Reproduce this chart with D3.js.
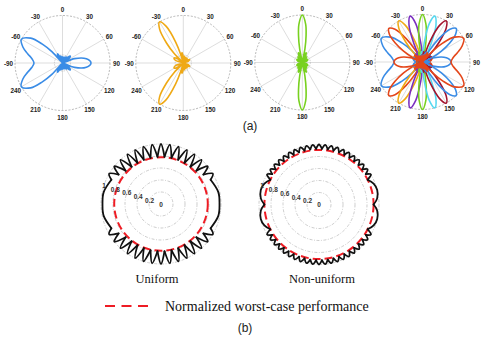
<!DOCTYPE html>
<html><head><meta charset="utf-8">
<script src="https://cdn.jsdelivr.net/npm/d3@7"></script>
<style>body{margin:0;background:#fff}svg{display:block}</style>
</head><body>
<svg id="c" width="484" height="337"></svg>
<script>
// ---------- DATA ----------
// (a) angular tick positions (deg, clockwise from top) and their labels
const tickAngles = [0, 30, 60, 90, 120, 150, 180, 210, 240, 270, 300, 330];
const tickLabels = ["0", "30", "60", "90", "120", "150", "180", "210", "240", "-90", "-60", "-30"];
const spokeAngles = [0, 30, 60, 90, 120, 150];

// Beam patterns (front half, angle deg from -90 to 90, normalized gain). Back half is symmetric about the array axis.
const beamM60 = [[-90,0.6],[-82,0.65],[-75,0.76],[-68,0.9],[-60,1],[-52,0.85],[-47,0.59],[-43,0.32],[-38,0],
  [-34,0.17],[-29,0.22],[-25,0.17],[-21.5,0],[-18,0.11],[-14,0.15],[-10,0.11],[-6.7,0],
  [-3,0.1],[0.5,0.13],[4,0.1],[7.7,0],[11,0.1],[15,0.13],[19,0.1],[22.6,0],
  [27,0.11],[30.6,0.15],[35,0.11],[39.3,0],[44,0.17],[49.4,0.22],[55,0.17],[62,0],
  [70,0.27],[80,0.51],[90,0.6]];
const beamM45 = [[-90,0.15],[-80,0.1],[-73.2,0],
  [-69,0.1],[-65,0.24],[-60,0.46],[-55,0.7],[-50,0.91],[-45,1],[-40,0.9],[-35,0.6],[-31,0.28],[-27.2,0],
  [-23,0.17],[-19.4,0.22],[-15.5,0.17],[-11.9,0],[-8.5,0.11],[-4.7,0.15],[-1,0.11],[2.5,0],
  [6,0.1],[9.7,0.13],[13.5,0.1],[17,0],[21,0.1],[24.7,0.13],[29,0.1],[32.9,0],
  [37,0.11],[41.9,0.15],[47,0.11],[52.5,0],[59,0.17],[66.6,0.22],[78,0.19],[90,0.15]];
const beamM30 = [[-90,0],[-72,0.17],[-61,0.22],[-54,0.17],[-48.6,0],
  [-44,0.27],[-40,0.55],[-35,0.87],[-30,1],[-25,0.85],[-20,0.47],[-17,0.2],[-14.5,0],
  [-11,0.17],[-7.2,0.22],[-3.5,0.17],[0,0],[3.5,0.11],[7.2,0.15],[11,0.11],[14.5,0],
  [18,0.1],[22,0.13],[26,0.1],[30,0],[34,0.1],[38.7,0.13],[43,0.1],[48.6,0],
  [54,0.11],[61,0.15],[72,0.11],[90,0]];
const beamM15 = [[-90,0.02],[-72,0.11],[-62,0.15],[-55,0.11],[-49.4,0],
  [-45,0.17],[-39.3,0.22],[-35,0.17],[-30.6,0],
  [-28,0.19],[-25,0.43],[-20,0.83],[-15,1],[-10,0.82],[-5,0.39],[-3,0.2],[-0.5,0],
  [3,0.17],[6.7,0.22],[10,0.17],[13.9,0],[17.5,0.11],[21.5,0.15],[25.5,0.11],[29.4,0],
  [33,0.1],[38,0.13],[43,0.1],[47.8,0],[54,0.1],[60,0.13],[70,0.1],[82.3,0],[90,0.02]];
const beam0 = [[-90,0],[-72,0.1],[-61,0.13],[-54,0.1],[-48.6,0],
  [-43,0.11],[-38.7,0.15],[-34,0.11],[-30,0],[-26,0.17],[-22,0.22],[-18,0.17],[-14.5,0],
  [-11,0.29],[-8,0.57],[-5,0.81],[0,1],[5,0.81],[8,0.57],[11,0.29],[14.5,0],
  [18,0.17],[22,0.22],[26,0.17],[30,0],[34,0.11],[38.7,0.15],[43,0.11],[48.6,0],
  [54,0.1],[61,0.13],[72,0.1],[90,0]];

// panels of (a)
const panelSteers = [[-60], [-30], [0], [-60, -45, -30, -15, 0, 15, 30, 45, 60]];
const panelColors = [["#3a8ce6"], ["#efa915"], ["#78d11f"],
  ["#3a8ce6", "#e4461a", "#efa915", "#7a2fc0", "#78d11f", "#56d8f0", "#a3142e", "#3a8ce6", "#e4461a"]];

// (b) radial ticks
const rTicks = [0, 0.2, 0.4, 0.6, 0.8, 1];
const rTickLabels = ["0", "0.2", "0.4", "0.6", "0.8", "1"];

// (b) envelopes, upper half (angle, radius, 1 = cusp between beams)
const uniformEnv = [[-90,0.975,0],[-78,0.975,0],[-64,0.92,1],[-59.5,1,0],[-55.25,0.86,1],[-51,1,0],[-46.75,0.81,1],
  [-42.5,1,0],[-38.25,0.79,1],[-34,1,0],[-29.75,0.79,1],[-25.5,1,0],[-21.25,0.79,1],[-17,1,0],[-12.75,0.79,1],
  [-8.5,1,0],[-4.25,0.79,1],[0,1,0],[4.25,0.79,1],[8.5,1,0],[12.75,0.79,1],[17,1,0],[21.25,0.79,1],[25.5,1,0],
  [29.75,0.79,1],[34,1,0],[38.25,0.79,1],[42.5,1,0],[46.75,0.81,1],[51,1,0],[55.25,0.86,1],[59.5,1,0],
  [64,0.92,1],[78,0.975,0],[90,0.975,0]];
const nonUniformEnv = [[-90,0.91,1],[-84,0.975,0],[-76,1,0],[-69,0.975,0],[-63,0.91,1],
  [-60,1,0],[-57,0.93,1],[-54,1,0],[-51,0.93,1],[-48,1,0],[-45,0.93,1],[-42,1,0],[-39,0.93,1],[-36,1,0],
  [-33,0.93,1],[-30,1,0],[-27,0.93,1],[-24,1,0],[-21,0.93,1],[-18,1,0],[-15,0.93,1],[-12,1,0],[-9,0.93,1],
  [-6,1,0],[-3,0.93,1],[0,1,0],[3,0.93,1],[6,1,0],[9,0.93,1],[12,1,0],[15,0.93,1],[18,1,0],[21,0.93,1],
  [24,1,0],[27,0.93,1],[30,1,0],[33,0.93,1],[36,1,0],[39,0.93,1],[42,1,0],[45,0.93,1],[48,1,0],[51,0.93,1],
  [54,1,0],[57,0.93,1],[60,1,0],[63,0.91,1],[69,0.975,0],[76,1,0],[84,0.975,0],[90,0.91,1]];
const worstCase = [0.78, 0.91];
const bLabels = ["Uniform", "Non-uniform"];
const legendLabel = "Normalized worst-case performance";

// ---------- DRAW ----------
const svg = d3.select("#c");
const rad = d => d * Math.PI / 180;
const beamByMag = {60: beamM60, 45: beamM45, 30: beamM30, 15: beamM15, 0: beam0};

function frontFor(s) {
  const f = beamByMag[Math.abs(s)];
  return s > 0 ? f.map(d => [-d[0], d[1]]).reverse() : f;
}
function fullPattern(front) {
  const back = front.filter(d => d[0] > -90 && d[0] < 90).map(d => [180 - d[0], d[1]]).reverse();
  return front.concat(back);
}

const centersA = [[62.5, 63], [183.3, 63], [302.3, 62.5], [422.5, 62]];
const RA = 47.5;

centersA.forEach((c, pi) => {
  const g = svg.append("g").attr("transform", `translate(${c[0]},${c[1]})`);
  const r = d3.scaleLinear().domain([0, 1]).range([0, RA]);
  g.selectAll("line.spoke").data(spokeAngles).join("line")
    .attr("x1", d => r(1) * Math.sin(rad(d))).attr("y1", d => -r(1) * Math.cos(rad(d)))
    .attr("x2", d => -r(1) * Math.sin(rad(d))).attr("y2", d => r(1) * Math.cos(rad(d)))
    .attr("stroke", "#cfcfcf").attr("stroke-width", 0.7);
  g.append("circle").attr("r", r(1)).attr("fill", "none").attr("stroke", "#9a9a9a")
    .attr("stroke-width", 0.7).attr("stroke-dasharray", "2,1.5");
  g.append("circle").attr("r", r(0.17)).attr("fill", "none").attr("stroke", "#b0b0b0")
    .attr("stroke-width", 0.6).attr("stroke-dasharray", "1.5,1");
  const line = d3.lineRadial().angle(d => rad(d[0])).radius(d => r(d[1]))
    .curve(d3.curveCatmullRomClosed.alpha(0.5));
  panelSteers[pi].forEach((s, i) => {
    g.append("path").attr("d", line(fullPattern(frontFor(s))))
      .attr("fill", "none").attr("stroke", panelColors[pi][i]).attr("stroke-width", 1.6)
      .attr("stroke-linejoin", "round");
  });
  g.selectAll("text.tick").data(tickAngles).join("text")
    .attr("x", d => (RA + 6.5) * Math.sin(rad(d)))
    .attr("y", d => -(RA + 6.5) * Math.cos(rad(d)))
    .attr("text-anchor", "middle").attr("dominant-baseline", "central")
    .attr("font-family", "Liberation Sans, Arial, sans-serif").attr("font-size", 6.3).attr("font-weight", "bold")
    .attr("fill", "#222").text((d, i) => tickLabels[i]);
});

svg.append("text").attr("x", 250).attr("y", 130).attr("text-anchor", "middle")
  .attr("font-family", "Liberation Sans, Arial, sans-serif").attr("font-size", 12).attr("fill", "#222").text("(a)");

// (b)
const centersB = [[161, 204], [319, 204.5]];
const RB = 60;
function rippleArcs(top) {
  const back = top.filter(d => d[0] > -90 && d[0] < 90).map(d => [180 - d[0], d[1], d[2]]).reverse();
  let loop = top.concat(back);
  const i0 = loop.findIndex(d => d[2]);
  loop = loop.slice(i0).concat(loop.slice(0, i0));
  loop.push(loop[0]);
  const arcs = []; let cur = [loop[0]];
  for (let i = 1; i < loop.length; i++) {
    cur.push(loop[i]);
    if (loop[i][2]) { arcs.push(cur); cur = [loop[i]]; }
  }
  return arcs;
}
[uniformEnv, nonUniformEnv].forEach((env, bi) => {
  const c = centersB[bi];
  const g = svg.append("g").attr("transform", `translate(${c[0]},${c[1]})`);
  const r = d3.scaleLinear().domain([0, 1]).range([0, RB]);
  g.selectAll("circle.grid").data(rTicks.slice(1)).join("circle")
    .attr("r", d => r(d)).attr("fill", "none").attr("stroke", "#b8b8b8")
    .attr("stroke-width", 0.7).attr("stroke-dasharray", "3,1.5,1,1.5");
  g.append("circle").attr("r", r(worstCase[bi])).attr("fill", "none").attr("stroke", "#ee1c24")
    .attr("stroke-width", 2).attr("stroke-dasharray", "8,4");
  const line = d3.lineRadial().angle(d => rad(d[0])).radius(d => r(d[1])).curve(d3.curveCardinal.tension(0));
  g.selectAll("path.env").data(rippleArcs(env)).join("path")
    .attr("d", d => line(d)).attr("fill", "none").attr("stroke", "#111").attr("stroke-width", 1.8)
    .attr("stroke-linejoin", "round").attr("stroke-linecap", "round");
  g.selectAll("text.rt").data(rTicks).join("text")
    .attr("x", d => r(d) * Math.sin(rad(-72)))
    .attr("y", d => -r(d) * Math.cos(rad(-72)))
    .attr("text-anchor", "middle").attr("dominant-baseline", "central")
    .attr("font-family", "Liberation Sans, Arial, sans-serif").attr("font-size", 6.5).attr("font-weight", "bold")
    .attr("fill", "#333").text((d, i) => rTickLabels[i]);
  svg.append("text").attr("x", [157, 322][bi]).attr("y", 283).attr("text-anchor", "middle")
    .attr("font-family", "Liberation Serif, Times New Roman, serif").attr("font-size", 12.5).attr("fill", "#111")
    .text(bLabels[bi]);
});

svg.append("line").attr("x1", 105).attr("x2", 148).attr("y1", 306).attr("y2", 306)
  .attr("stroke", "#ee1c24").attr("stroke-width", 2).attr("stroke-dasharray", "10,6.5");
svg.append("text").attr("x", 165).attr("y", 310.5)
  .attr("font-family", "Liberation Serif, Times New Roman, serif").attr("font-size", 14).attr("fill", "#111")
  .text(legendLabel);
svg.append("text").attr("x", 245).attr("y", 332).attr("text-anchor", "middle")
  .attr("font-family", "Liberation Sans, Arial, sans-serif").attr("font-size", 12).attr("fill", "#222").text("(b)");
</script></body></html>
